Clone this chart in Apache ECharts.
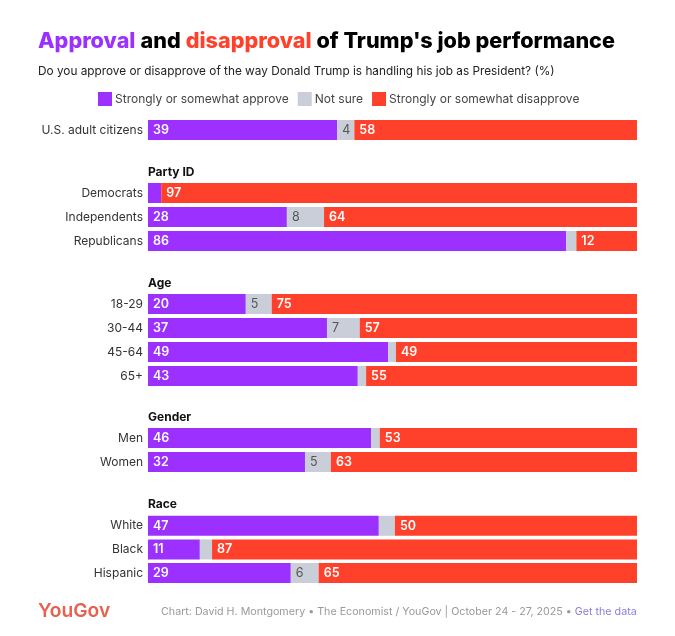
<!DOCTYPE html>
<html>
<head>
<meta charset="utf-8">
<style>html,body{margin:0;padding:0;background:#fff}#c{width:675px;height:636px}</style>
<script src="https://cdn.jsdelivr.net/npm/echarts@6/dist/echarts.min.js"></script>
</head>
<body>
<div id="c"></div>
<script>
const seriesNames = ['Strongly or somewhat approve', 'Not sure', 'Strongly or somewhat disapprove'];
const colors = ['#9b30ff', '#c9ced8', '#ff412c'];
const groupTitles = ['', 'Party ID', 'Age', 'Gender', 'Race'];
const groupRows = [
  ['U.S. adult citizens'],
  ['Democrats', 'Independents', 'Republicans'],
  ['18-29', '30-44', '45-64', '65+'],
  ['Men', 'Women'],
  ['White', 'Black', 'Hispanic']
];
const approve = [[38.7], [2.7, 28.4, 85.5], [20.0, 36.6, 49.1, 42.9], [45.6, 32.1], [47.2, 10.6, 29.2]];
const notSure = [[3.5], [0, 7.6, 2.1], [5.3, 6.7, 1.6, 1.7], [1.8, 5.3], [3.3, 2.5, 5.7]];
const disapprove = [[57.8], [97.3, 64.0, 12.4], [74.7, 56.7, 49.3, 55.4], [52.6, 62.6], [49.5, 86.9, 65.1]];
const values = [approve, notSure, disapprove];

const groupTops = [118, 181, 292, 426, 514];
const headerTops = [0, 166, 277, 411, 498];
const groupPitch = [24, 24, 24, 24, 23.6];

const font = 'Inter, "Liberation Sans", sans-serif';
const grid = [], xAxis = [], yAxis = [], series = [], graphic = [];
groupRows.forEach((rows, g) => {
  grid.push({left: 148, width: 489, top: groupTops[g], height: rows.length * groupPitch[g]});
  xAxis.push({gridIndex: g, type: 'value', min: 0, max: 100, show: false});
  yAxis.push({
    gridIndex: g, type: 'category', inverse: true, data: rows,
    axisLine: {show: false}, axisTick: {show: false},
    axisLabel: {color: '#333', fontFamily: font, fontSize: 12, margin: 5, padding: [0, 0, 2, 0]}
  });
  if (groupTitles[g]) {
    graphic.push({type: 'text', left: 148, top: headerTops[g],
      style: {text: groupTitles[g], fontFamily: font, fontSize: 12, fontWeight: 700, fill: '#111'}});
  }
  values.forEach((vals, s) => {
    series.push({
      name: seriesNames[s], type: 'bar', stack: 'g' + g,
      xAxisIndex: g, yAxisIndex: g, data: vals[g], barWidth: 20,
      itemStyle: {color: colors[s]},
      label: {
        show: true, position: 'insideLeft', distance: 5,
        fontFamily: font, fontSize: 12.5,
        fontWeight: s === 1 ? 400 : 600,
        color: s === 1 ? '#555' : '#fff',
        formatter: p => Math.round(p.value) >= 4 ? String(Math.round(p.value)) : ''
      }
    });
  });
});

const chart = echarts.init(document.getElementById('c'), null, {renderer: 'canvas'});
chart.setOption({
  animation: false,
  backgroundColor: '#fff',
  title: [
    {left: 38, top: 30, padding: 0, text: '{a|Approval} {b|and} {c|disapproval} {b|of Trump\'s job performance}',
      textStyle: {rich: {
        a: {fontFamily: font, fontSize: 21.6, fontWeight: 800, color: '#9b30ff'},
        b: {fontFamily: font, fontSize: 21.6, fontWeight: 800, color: '#000'},
        c: {fontFamily: font, fontSize: 21.6, fontWeight: 800, color: '#ff412c'}
      }}},
    {left: 38, top: 65, padding: 0, text: 'Do you approve or disapprove of the way Donald Trump is handling his job as President? (%)',
      textStyle: {fontFamily: font, fontSize: 11.8, fontWeight: 400, color: '#222'}},
    {left: 161, top: 606, padding: 0, text: 'Chart: David H. Montgomery • The Economist / YouGov | October 24 - 27, 2025 • {l|Get the data}',
      textStyle: {fontFamily: font, fontSize: 10.7, fontWeight: 400, color: '#999',
        rich: {l: {fontFamily: font, fontSize: 10.7, color: '#8a7fd6'}}}},
    {left: 38, top: 602, padding: 0, text: 'YouGov',
      textStyle: {fontFamily: font, fontSize: 19.2, fontWeight: 600, color: '#e8604f'}}
  ],
  legend: {
    left: 93, top: 87, itemWidth: 14, itemHeight: 14, itemGap: 9,
    icon: 'rect', selectedMode: false, data: seriesNames,
    textStyle: {fontFamily: font, fontSize: 12, color: '#444', padding: [0, 0, 0, -2]}
  },
  grid, xAxis, yAxis, series, graphic
});
</script>
</body>
</html>
